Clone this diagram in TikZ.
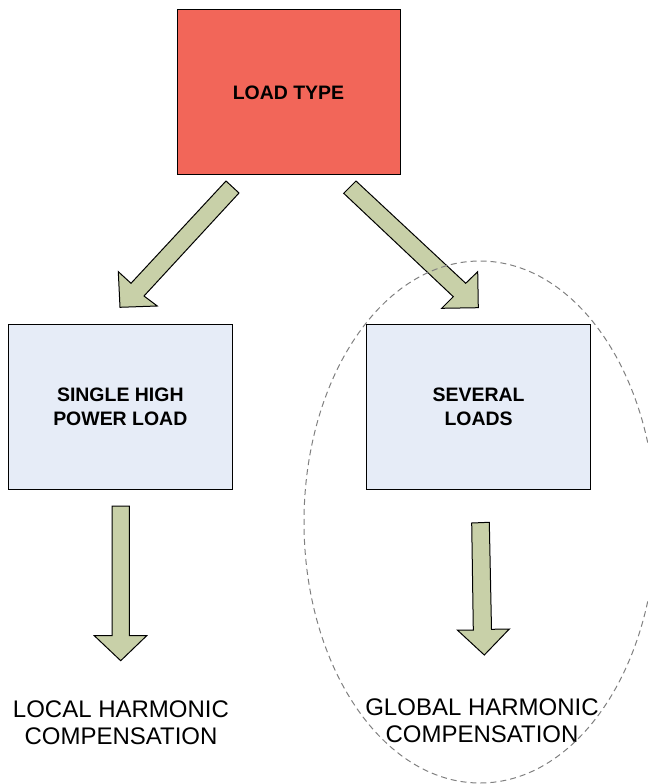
\documentclass[tikz,border=0pt]{standalone}
\usepackage{fontspec}
\setmainfont{Liberation Sans}
\definecolor{loadred}{RGB}{242,102,89}
\definecolor{boxblue}{RGB}{230,236,247}
\definecolor{arrowolive}{RGB}{200,208,168}
\definecolor{ringgray}{RGB}{128,128,128}
\begin{document}
\begin{tikzpicture}[x=0.75pt,y=-0.75pt,
  boxstyle/.style={draw=black, line width=0.75pt, minimum width=168pt, minimum height=123.75pt, inner sep=0pt, align=center, font=\bfseries\fontsize{14.6pt}{18.2pt}\selectfont},
  blockarrow/.style={draw=black, fill=arrowolive, line width=0.75pt, line join=miter},
  outcome/.style={align=center, inner sep=0pt, font=\fontsize{18pt}{20.25pt}\selectfont},
  ring/.style={draw=ringgray, line width=0.75pt, dash pattern=on 4.5pt off 3pt}]
\useasboundingbox (0,0) rectangle (648,784);
\clip (0,0) rectangle (648,784);
% boxes
\node[boxstyle, fill=loadred, minimum width=167.25pt] (top) at (288.5,92.5) {LOAD TYPE};
\node[boxstyle, fill=boxblue] (single) at (120.3,406.8) {SINGLE HIGH\\POWER LOAD};
\node[boxstyle, fill=boxblue] (several) at (478.6,406.7) {SEVERAL\\LOADS};
% outcomes
\node[outcome] (local) at (121,722.5) {LOCAL HARMONIC\\COMPENSATION};
\node[outcome] (global) at (482,721) {GLOBAL HARMONIC\\COMPENSATION};
% block arrows
\draw[blockarrow] (226,181) -- (239,193) -- (144,296) -- (157.3,306) -- (120,307.3) -- (118.3,271.7) -- (131,283.3) -- cycle;
\draw[blockarrow] (356,181) -- (465.7,283.3) -- (477.7,271.7) -- (478.3,307.7) -- (441.7,308.3) -- (453.3,296.7) -- (343.7,193.3) -- cycle;
\draw[blockarrow] (112,506) -- (129.3,506) -- (129.3,635.7) -- (146.7,635.7) -- (120.7,660.7) -- (94.3,635.7) -- (112,635.7) -- cycle;
\draw[blockarrow] (471.7,523) -- (489.3,522.3) -- (491.5,629.3) -- (509.3,629) -- (484.3,655) -- (457.3,630) -- (473.3,630) -- cycle;
% grouping ellipse
\draw[ring] (480,522) ellipse [x radius=132pt, y radius=195.75pt];
\end{tikzpicture}
\end{document}
